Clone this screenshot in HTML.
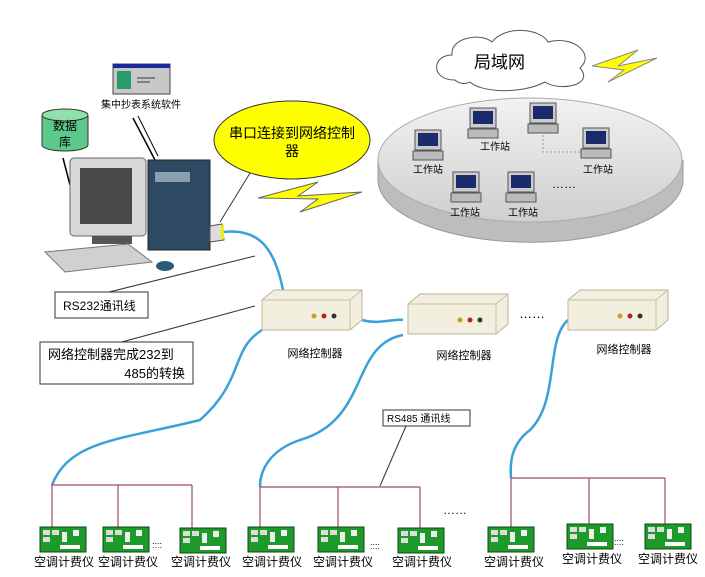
<!DOCTYPE html>
<html><head><meta charset="utf-8"><style>
body{margin:0;background:#fff}
text{font-family:"Liberation Sans","Noto Sans CJK SC",sans-serif}
</style></head><body>
<svg width="705" height="572" viewBox="0 0 705 572" xmlns="http://www.w3.org/2000/svg">
<defs>
<linearGradient id="disc" x1="0" y1="0" x2="0" y2="1"><stop offset="0" stop-color="#f2f2f2"/><stop offset="1" stop-color="#cfcfcf"/></linearGradient>
<g id="ws">
<rect x="0" y="0" width="26" height="20" fill="#ccc" stroke="#555"/>
<rect x="3" y="3" width="20" height="13" fill="#1a2a6a"/>
<rect x="-2" y="21" width="30" height="9" fill="#bbb" stroke="#555"/>
</g>
<g id="ctl">
<path d="M0 10 L12 0 L100 0 L100 30 L88 40 L0 40 Z" fill="#f3efdf" stroke="#b9b39a"/>
<line x1="0" y1="10" x2="88" y2="10" stroke="#c8c2a6"/><line x1="88" y1="10" x2="100" y2="0" stroke="#c8c2a6"/><line x1="88" y1="10" x2="88" y2="40" stroke="#c8c2a6"/>
<circle cx="52" cy="26" r="2.5" fill="#c9a020"/><circle cx="62" cy="26" r="2.5" fill="#c02020"/><circle cx="72" cy="26" r="2.5" fill="#333"/>
</g>
<g id="m">
<rect x="0" y="0" width="46" height="25" fill="#1e9a2a" stroke="#0b4a10"/>
<rect x="3" y="3" width="7" height="5" fill="#ddd"/><rect x="12" y="3" width="7" height="5" fill="#ddd"/><rect x="3" y="10" width="7" height="5" fill="#ddd"/>
<rect x="22" y="5" width="5" height="10" fill="#eee"/><rect x="33" y="3" width="6" height="6" fill="#eee"/>
<rect x="20" y="18" width="20" height="4" fill="#fff"/>
</g>
</defs>

<!-- disc -->
<path d="M378 160 L378 180 A152 62 0 0 0 683 180 L683 160" fill="#bdbdbd" stroke="#999"/>
<ellipse cx="530" cy="160" rx="152" ry="62" fill="url(#disc)" stroke="#aaa"/>
<use href="#ws" x="415" y="130"/><text x="413" y="173" font-size="10">工作站</text>
<use href="#ws" x="470" y="108"/><text x="480" y="150" font-size="10">工作站</text>
<use href="#ws" x="530" y="103"/>
<use href="#ws" x="583" y="128"/><text x="583" y="173" font-size="10">工作站</text>
<use href="#ws" x="453" y="172"/><text x="450" y="216" font-size="10">工作站</text>
<use href="#ws" x="508" y="172"/><text x="508" y="216" font-size="10">工作站</text>
<text x="552" y="188" font-size="12">……</text>
<path d="M543 135 L543 152 L580 152" stroke="#999" fill="none" stroke-dasharray="2,2"/>

<!-- cloud -->
<path d="M455 80 C430 80 432 55 452 55 C450 38 480 32 492 42 C505 25 540 28 548 42 C575 35 595 55 580 68 C595 85 560 92 545 82 C520 95 480 92 470 82 C465 85 458 83 455 80 Z" fill="#fff" stroke="#555"/>
<text x="474" y="68" font-size="17">局域网</text>
<path d="M592 66 L638 50 L618 66 L657 58 L608 82 L624 70 Z" fill="#ffff00" stroke="#888"/>

<!-- yellow callout -->
<line x1="258" y1="160" x2="220" y2="222" stroke="#333"/>
<ellipse cx="292" cy="140" rx="78" ry="39" fill="#ffff00" stroke="#333"/>
<text x="292" y="138" font-size="14" text-anchor="middle">串口连接到网络控制</text>
<text x="292" y="156" font-size="14" text-anchor="middle">器</text>
<path d="M258 198 L318 182 L298 196 L362 192 L300 212 L318 199 Z" fill="#ffff00" stroke="#666"/>

<!-- software window -->
<rect x="113" y="64" width="57" height="30" fill="#c8c8c8" stroke="#444"/>
<rect x="113" y="64" width="57" height="4" fill="#1a2a9a"/>
<rect x="117" y="71" width="14" height="18" fill="#2a9a6a"/>
<line x1="137" y1="78" x2="155" y2="78" stroke="#333"/><line x1="137" y1="82" x2="150" y2="82" stroke="#333"/>
<text x="141" y="108" font-size="10" text-anchor="middle">集中抄表系统软件</text>
<line x1="133" y1="118" x2="155" y2="160" stroke="#000" stroke-width="1.5"/><line x1="138" y1="116" x2="158" y2="156" stroke="#000"/>

<!-- database -->
<path d="M42 115 L42 145 A23 6 0 0 0 88 145 L88 115" fill="#5cc98a" stroke="#333"/>
<ellipse cx="65" cy="115" rx="23" ry="6" fill="#8fe0ad" stroke="#333"/>
<text x="65" y="130" font-size="12" text-anchor="middle">数据</text>
<text x="65" y="146" font-size="12" text-anchor="middle">库</text>
<line x1="63" y1="158" x2="70" y2="185" stroke="#000" stroke-width="1.5"/>

<!-- computer -->
<rect x="148" y="160" width="62" height="90" fill="#2e4a62" stroke="#222"/>
<rect x="155" y="172" width="35" height="10" fill="#8aa0b0"/>
<rect x="70" y="158" width="76" height="78" rx="4" fill="#d8d8d8" stroke="#666"/>
<rect x="80" y="168" width="52" height="56" fill="#4a4a4a"/>
<rect x="92" y="236" width="40" height="8" fill="#555"/>
<path d="M45 252 L128 244 L152 262 L65 272 Z" fill="#d0d0d0" stroke="#777"/>
<ellipse cx="165" cy="266" rx="9" ry="5" fill="#2e5a7a"/>
<path d="M210 226 L222 224 L224 240 L210 242 Z" fill="#ddd" stroke="#555"/>
<rect x="221" y="225" width="3" height="14" fill="#ee0"/>

<!-- callout boxes -->
<line x1="105" y1="293" x2="255" y2="256" stroke="#333"/>
<rect x="55" y="292" width="93" height="26" fill="#fff" stroke="#333"/>
<text x="63" y="310" font-size="12">RS232通讯线</text>
<line x1="118" y1="343" x2="255" y2="306" stroke="#333"/>
<rect x="40" y="342" width="153" height="42" fill="#fff" stroke="#333"/>
<text x="48" y="359" font-size="13">网络控制器完成232到</text>
<text x="185" y="378" font-size="13" text-anchor="end">485的转换</text>

<!-- blue cables -->
<g stroke="#3aa0d8" stroke-width="2.5" fill="none">
<path d="M224 232 C260 228 275 250 283 290"/>
<path d="M262 330 C230 350 245 380 200 420 C120 440 70 440 52 485"/>
<path d="M362 320 C380 325 395 318 403 320"/>
<path d="M403 335 C350 345 370 420 300 440 C270 450 260 470 260 487"/>
<path d="M568 320 C545 340 560 400 530 430 C510 445 510 465 511 478"/>
</g>

<!-- controllers -->
<use href="#ctl" x="262" y="290"/><text x="315" y="357" font-size="11" text-anchor="middle">网络控制器</text>
<use href="#ctl" x="408" y="294"/><text x="464" y="359" font-size="11" text-anchor="middle">网络控制器</text>
<use href="#ctl" x="568" y="290"/><text x="624" y="353" font-size="11" text-anchor="middle">网络控制器</text>
<text x="519" y="318" font-size="13">……</text>

<!-- RS485 label -->
<line x1="406" y1="426" x2="380" y2="486" stroke="#333"/>
<rect x="383" y="410" width="87" height="16" fill="#fff" stroke="#333"/>
<text x="387" y="422" font-size="10">RS485 通讯线</text>

<!-- buses -->
<g stroke="#9a4a6a" stroke-width="1.2" fill="none">
<path d="M52 485 H192 M52 485 V530 M118 485 V530 M192 485 V530"/>
<path d="M260 487 H420 M260 487 V530 M338 487 V530 M420 487 V530"/>
<path d="M511 478 H665 M511 478 V528 M589 478 V528 M665 478 V528"/>
</g>
<text x="443" y="514" font-size="12">……</text>

<!-- meters -->
<use href="#m" x="40" y="527"/><use href="#m" x="103" y="527"/><use href="#m" x="180" y="528"/>
<use href="#m" x="248" y="527"/><use href="#m" x="318" y="527"/><use href="#m" x="398" y="528"/>
<use href="#m" x="488" y="527"/><use href="#m" x="567" y="524"/><use href="#m" x="645" y="524"/>
<g font-size="12" fill="#000">
<text x="152" y="548" font-size="9">::::</text><text x="370" y="549" font-size="9">::::</text><text x="614" y="545" font-size="9">::::</text>
<text x="34" y="566">空调计费仪</text><text x="98" y="566">空调计费仪</text><text x="171" y="566">空调计费仪</text>
<text x="242" y="566">空调计费仪</text><text x="313" y="566">空调计费仪</text><text x="392" y="566">空调计费仪</text>
<text x="484" y="566">空调计费仪</text><text x="562" y="563">空调计费仪</text><text x="638" y="563">空调计费仪</text>
</g>
</svg>
</body></html>
